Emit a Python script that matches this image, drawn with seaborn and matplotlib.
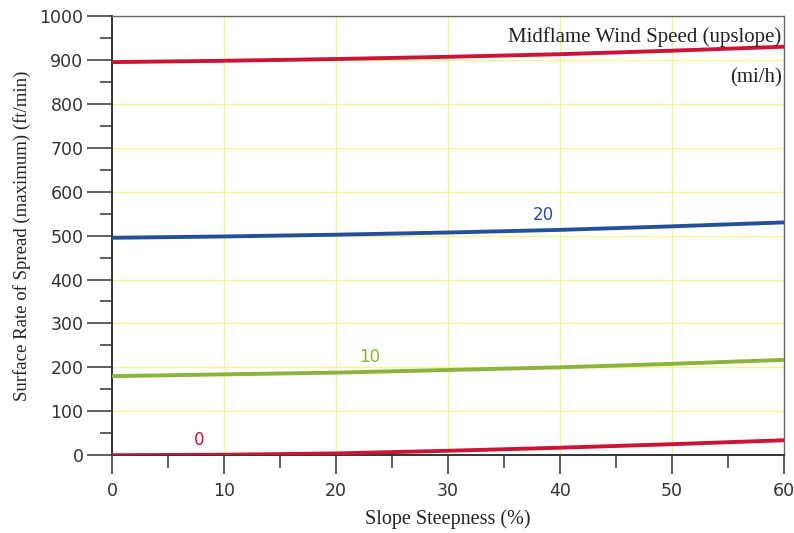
import matplotlib
matplotlib.use("Agg")
import matplotlib.pyplot as plt
import seaborn as sns
import pandas as pd
from matplotlib.ticker import MultipleLocator

# Surface rate of spread vs slope steepness for several midflame wind speeds
slope_pct = [0, 10, 20, 30, 40, 50, 60]
wind_0 = [0, 1, 4, 10, 17, 25, 34]
wind_10 = [180, 184, 188, 194, 200, 208, 217]
wind_20 = [495, 498, 502, 507, 513, 521, 530]
wind_30 = [895, 898, 902, 907, 913, 921, 930]

wind_labels = ["0", "10", "20", "30"]
series = [wind_0, wind_10, wind_20, wind_30]
colors = ["#cc1436", "#8cb43c", "#24509a", "#cc1436"]
label_pos = [(7.8, 14), (23.0, 204), (38.5, 527), None]

rows = []
for lab, vals in zip(wind_labels, series):
    for s, v in zip(slope_pct, vals):
        rows.append({"slope": s, "ros": v, "wind": lab})
df = pd.DataFrame(rows)

sns.set_theme(style="white")
fig = plt.figure(figsize=(7.94, 5.33), dpi=100)
ax = fig.add_axes([0.141, 0.146, 0.846, 0.824])

sns.lineplot(data=df, x="slope", y="ros", hue="wind", palette=dict(zip(wind_labels, colors)),
             linewidth=2.8, legend=False, ax=ax, zorder=3)

ax.set_xlim(0, 60)
ax.set_ylim(0, 1000)
ax.xaxis.set_major_locator(MultipleLocator(10))
ax.xaxis.set_minor_locator(MultipleLocator(5))
ax.yaxis.set_major_locator(MultipleLocator(100))
ax.yaxis.set_minor_locator(MultipleLocator(50))
ax.grid(True, which="major", color="#f4f49a", linewidth=1.0, zorder=0)
ax.set_axisbelow(True)

ax.tick_params(axis="both", which="both", direction="out", width=1.1, color="#333333",
               labelsize=12.5, labelcolor="#333333", bottom=True, left=True)
ax.tick_params(axis="y", which="major", length=18, pad=2.5)
ax.tick_params(axis="y", which="minor", length=8.5)
ax.tick_params(axis="x", which="major", length=14, pad=5)
ax.tick_params(axis="x", which="minor", length=9)
for lbl in ax.get_xticklabels() + ax.get_yticklabels():
    lbl.set_family("DejaVu Sans")

for side in ["left", "bottom"]:
    ax.spines[side].set_color("#333333")
    ax.spines[side].set_linewidth(1.4)
for side in ["top", "right"]:
    ax.spines[side].set_color("#666666")
    ax.spines[side].set_linewidth(1.0)

serif = "Liberation Serif"
ax.set_xlabel("Slope Steepness (%)", family=serif, fontsize=14.5, color="#222222", labelpad=7)
ax.set_ylabel("Surface Rate of Spread (maximum) (ft/min)", family=serif, fontsize=13.5,
              color="#222222", labelpad=6)

for lab, pos, col in zip(wind_labels, label_pos, colors):
    if pos is not None:
        ax.text(pos[0], pos[1], lab, color=col, fontsize=12, family="DejaVu Sans",
                ha="center", va="bottom", zorder=4)

ax.text(0.997, 0.975, "Midflame Wind Speed (upslope)", transform=ax.transAxes,
        family=serif, fontsize=15, color="#222222", ha="right", va="top", zorder=5)
ax.text(0.997, 0.882, "(mi/h)", transform=ax.transAxes,
        family=serif, fontsize=15, color="#222222", ha="right", va="top", zorder=5)

fig.savefig("out.png", dpi=100)
